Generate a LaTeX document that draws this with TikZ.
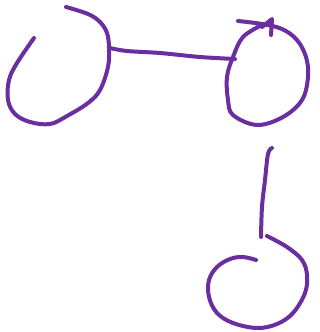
\documentclass[tikz,border=0pt]{standalone}
\definecolor{ink}{RGB}{106,46,160}
\begin{document}
\begin{tikzpicture}[x=1pt,y=-1pt,
  pen/.style={draw=ink,line width=4pt,line cap=round,line join=round}]
\useasboundingbox (0,0) rectangle (320,332);
% left loop
\draw[pen] plot[smooth,tension=0.6] coordinates {(66,7) (88,14) (100,22) (107,33) (109,48) (108,67) (100,90) (88,103) (67,116) (50,124) (30,122) (15,114) (8,100) (9,80) (17,63) (34,38)};
% connector
\draw[pen] plot[smooth,tension=0.6] coordinates {(110,48) (127,51) (160,53) (200,57) (235,59)};
% right circle
\draw[pen] plot[smooth,tension=0.6] coordinates {(238,21) (262,24) (282,29) (297,40) (306,57) (308,77) (302,100) (283,117) (257,125) (233,115) (228,100) (227,77) (233,57) (243,37) (262,25)};
% tick at top
\draw[pen] (262,27) -- (272,19) -- (271,35);
% vertical line
\draw[pen] plot[smooth,tension=0.6] coordinates {(272,148) (268,154) (265,180) (262,207) (261,237)};
% bottom spiral
\draw[pen] plot[smooth,tension=0.6] coordinates {(267,236) (287,247) (302,260) (307,275) (305,293) (293,313) (277,324) (257,328) (233,323) (217,313) (209,297) (209,280) (217,267) (230,259) (243,257) (256,260)};
\end{tikzpicture}
\end{document}
